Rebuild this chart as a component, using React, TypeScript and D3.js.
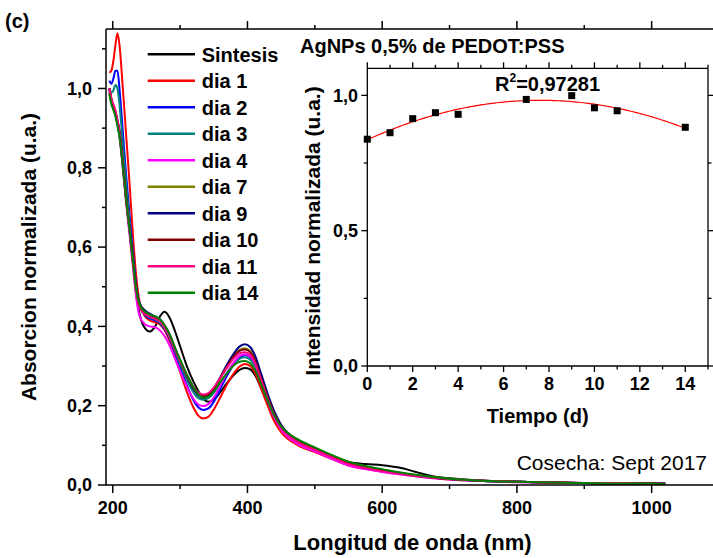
import React from "react";
import * as d3 from "d3";

// ---------- Main chart data ----------
const wavelengths = [195,198,201,204,207,210,215,220,225,230,235,240,248,255,263,270,277,285,292,300,310,320,327,334,342,350,360,370,380,388,396,404,412,420,430,440,450,475,500,525,550,575,600,625,650,675,700,750,800,850,900,950,1000,1020];

const sintesis = [0.99,0.965,0.95,0.935,0.91,0.88,0.80,0.715,0.64,0.56,0.48,0.43,0.395,0.387,0.40,0.425,0.437,0.42,0.39,0.35,0.30,0.26,0.237,0.218,0.21,0.215,0.235,0.258,0.278,0.29,0.295,0.292,0.275,0.245,0.205,0.168,0.142,0.108,0.09,0.072,0.058,0.053,0.05,0.044,0.033,0.022,0.017,0.011,0.008,0.006,0.005,0.004,0.004,0.004];
const dia1 = [1.04,1.045,1.07,1.11,1.139,1.11,1.0,0.88,0.76,0.63,0.525,0.46,0.425,0.415,0.41,0.405,0.39,0.36,0.325,0.285,0.235,0.195,0.175,0.168,0.172,0.19,0.222,0.255,0.282,0.298,0.305,0.30,0.28,0.245,0.20,0.16,0.133,0.10,0.083,0.066,0.05,0.041,0.034,0.028,0.022,0.018,0.014,0.01,0.008,0.006,0.005,0.005,0.004,0.004];
const dia2 = [1.02,1.012,1.025,1.045,1.045,1.0,0.89,0.78,0.68,0.585,0.5,0.452,0.428,0.42,0.415,0.408,0.393,0.367,0.335,0.298,0.252,0.213,0.196,0.189,0.193,0.21,0.243,0.277,0.305,0.321,0.328,0.322,0.30,0.262,0.213,0.172,0.143,0.107,0.088,0.07,0.053,0.044,0.036,0.03,0.024,0.019,0.015,0.01,0.008,0.006,0.005,0.005,0.005,0.005];
const dia3 = [1.0,0.99,0.995,1.009,1.0,0.96,0.86,0.76,0.665,0.575,0.495,0.452,0.43,0.423,0.418,0.41,0.395,0.37,0.34,0.305,0.265,0.233,0.219,0.215,0.219,0.233,0.258,0.284,0.306,0.318,0.322,0.316,0.295,0.258,0.212,0.172,0.144,0.109,0.09,0.072,0.055,0.045,0.037,0.03,0.024,0.019,0.015,0.01,0.008,0.006,0.005,0.004,0.004,0.004];
const dia4 = [1.0,0.97,0.95,0.935,0.91,0.88,0.80,0.71,0.63,0.55,0.47,0.425,0.405,0.40,0.398,0.39,0.375,0.35,0.32,0.287,0.248,0.217,0.203,0.199,0.204,0.221,0.252,0.284,0.31,0.325,0.33,0.324,0.302,0.263,0.213,0.17,0.14,0.103,0.085,0.066,0.049,0.04,0.033,0.027,0.022,0.017,0.014,0.01,0.007,0.006,0.005,0.004,0.004,0.004];
const dia7 = [1.0,0.975,0.955,0.94,0.915,0.89,0.81,0.72,0.645,0.565,0.49,0.455,0.435,0.428,0.422,0.415,0.40,0.375,0.345,0.313,0.275,0.243,0.228,0.222,0.226,0.242,0.27,0.30,0.326,0.34,0.345,0.338,0.313,0.272,0.222,0.179,0.149,0.112,0.092,0.073,0.056,0.046,0.038,0.031,0.025,0.02,0.016,0.011,0.008,0.006,0.005,0.004,0.004,0.003];
const dia9 = [1.0,0.97,0.95,0.94,0.92,0.895,0.815,0.725,0.65,0.57,0.495,0.458,0.44,0.432,0.425,0.418,0.403,0.378,0.347,0.314,0.275,0.242,0.226,0.22,0.225,0.243,0.273,0.305,0.332,0.349,0.355,0.348,0.323,0.282,0.23,0.185,0.152,0.112,0.091,0.072,0.055,0.045,0.037,0.03,0.024,0.019,0.015,0.011,0.008,0.006,0.005,0.005,0.005,0.005];
const dia10 = [1.0,0.972,0.952,0.938,0.915,0.89,0.81,0.72,0.645,0.565,0.49,0.455,0.436,0.429,0.423,0.416,0.401,0.376,0.346,0.314,0.277,0.245,0.23,0.225,0.229,0.244,0.271,0.30,0.325,0.338,0.342,0.335,0.31,0.27,0.221,0.178,0.148,0.111,0.091,0.072,0.055,0.045,0.037,0.03,0.024,0.019,0.015,0.011,0.008,0.006,0.005,0.004,0.004,0.003];
const dia11 = [1.0,0.975,0.96,0.945,0.92,0.89,0.81,0.72,0.64,0.56,0.485,0.448,0.43,0.424,0.419,0.412,0.397,0.372,0.343,0.312,0.277,0.247,0.233,0.228,0.232,0.246,0.271,0.297,0.32,0.332,0.335,0.329,0.305,0.266,0.217,0.175,0.145,0.108,0.089,0.07,0.053,0.043,0.035,0.029,0.023,0.018,0.015,0.011,0.008,0.006,0.005,0.005,0.004,0.004];
const dia14 = [0.985,0.96,0.945,0.93,0.905,0.88,0.805,0.718,0.643,0.565,0.49,0.455,0.437,0.43,0.425,0.418,0.403,0.378,0.348,0.316,0.279,0.246,0.229,0.22,0.223,0.236,0.26,0.283,0.302,0.311,0.313,0.307,0.288,0.255,0.213,0.175,0.148,0.115,0.095,0.076,0.059,0.048,0.04,0.032,0.026,0.02,0.016,0.011,0.008,0.006,0.005,0.004,0.004,0.003];

const seriesNames = ["Sintesis","dia 1","dia 2","dia 3","dia 4","dia 7","dia 9","dia 10","dia 11","dia 14"];
const seriesValues = [sintesis, dia1, dia2, dia3, dia4, dia7, dia9, dia10, dia11, dia14];
const seriesColors = ["#000000","#FF0000","#0000FF","#008080","#FF00FF","#808000","#000080","#800000","#FF0080","#008000"];

const xMajorTicks = [200, 400, 600, 800, 1000];
const xMinorTicks = [300, 500, 700, 900, 1100];
const yMajorTicks = [0, 0.2, 0.4, 0.6, 0.8, 1.0];
const yMajorLabels = ["0,0", "0,2", "0,4", "0,6", "0,8", "1,0"];
const yMinorTicks = [0.1, 0.3, 0.5, 0.7, 0.9, 1.1];

// ---------- Inset data ----------
const days = [0, 1, 2, 3, 4, 7, 9, 10, 11, 14];
const intensity = [0.838, 0.862, 0.914, 0.936, 0.930, 0.985, 0.999, 0.954, 0.943, 0.882];
const insetXMajor = [0, 2, 4, 6, 8, 10, 12, 14];
const insetXMinor = [1, 3, 5, 7, 9, 11, 13, 15];
const insetYMajor = [0, 0.5, 1.0];
const insetYLabels = ["0,0", "0,5", "1,0"];
const insetYMinor = [0.25, 0.75];

const FONT = "'Liberation Sans', Arial, Helvetica, sans-serif";

function quadFit(xs: number[], ys: number[]) {
  // least squares y = a + b x + c x^2
  let s0 = 0, s1 = 0, s2 = 0, s3 = 0, s4 = 0, t0 = 0, t1 = 0, t2 = 0;
  xs.forEach((x, i) => {
    const y = ys[i];
    s0 += 1; s1 += x; s2 += x * x; s3 += x * x * x; s4 += x * x * x * x;
    t0 += y; t1 += x * y; t2 += x * x * y;
  });
  const M = [[s0, s1, s2, t0], [s1, s2, s3, t1], [s2, s3, s4, t2]];
  for (let i = 0; i < 3; i++) {
    for (let k = i + 1; k < 3; k++) {
      const f = M[k][i] / M[i][i];
      for (let j = i; j < 4; j++) M[k][j] -= f * M[i][j];
    }
  }
  const sol = [0, 0, 0];
  for (let i = 2; i >= 0; i--) {
    let s = M[i][3];
    for (let j = i + 1; j < 3; j++) s -= M[i][j] * sol[j];
    sol[i] = s / M[i][i];
  }
  return sol;
}

export default function App() {
  const width = 713, height = 558;
  // main scales
  const x = d3.scaleLinear().domain([190, 1100]).range([106, 719]);
  const y = d3.scaleLinear().domain([0, 1.15]).range([485, 29]);
  const line = d3.line<number>()
    .x((_, i) => x(wavelengths[i]))
    .y((d) => y(d))
    .curve(d3.curveMonotoneX);

  // inset scales
  const ix = d3.scaleLinear().domain([0, 15]).range([367.3, 708]);
  const iy = d3.scaleLinear().domain([0, 1.1]).range([366, 68.3]);
  const coef = quadFit(days, intensity);
  const fitT = d3.range(0, 14.001, 0.1);
  const fitLine = d3.line<number>()
    .x((t) => ix(t))
    .y((t) => iy(coef[0] + coef[1] * t + coef[2] * t * t));

  const x0 = x.range()[0], x1 = x.range()[1];
  const y0 = y.range()[0], y1 = y.range()[1];
  const ix0 = ix.range()[0], ix1 = ix.range()[1];
  const iy0 = iy.range()[0], iy1 = iy.range()[1];

  return (
    <svg width={width} height={height} style={{ position: "absolute", left: 0, top: 0, background: "#fff" }} fontFamily={FONT}>
      <rect x={0} y={0} width={width} height={height} fill="#fff" />
      {/* panel label */}
      <text x={5} y={28} fontSize={20} fontWeight="bold">(c)</text>

      {/* curves */}
      <g fill="none" strokeWidth={2} strokeLinejoin="round">
        {seriesValues.map((vals, i) => (
          <path key={i} d={line(vals) || ""} stroke={seriesColors[i]} />
        ))}
      </g>

      {/* main frame */}
      <g stroke="#000" strokeWidth={1.5} fill="none">
        <line x1={x0} x2={x1} y1={y0} y2={y0} />
        <line x1={x0} x2={x1} y1={y1} y2={y1} />
        <line x1={x0} x2={x0} y1={y0} y2={y1} />
        <line x1={x1} x2={x1} y1={y0} y2={y1} />
        {xMajorTicks.map((t) => (
          <g key={"xm" + t}>
            <line x1={x(t)} x2={x(t)} y1={y0} y2={y0 + 8} />
            <line x1={x(t)} x2={x(t)} y1={y1} y2={y1 - 8} />
          </g>
        ))}
        {xMinorTicks.map((t) => (
          <g key={"xn" + t}>
            <line x1={x(t)} x2={x(t)} y1={y0} y2={y0 + 4} />
            <line x1={x(t)} x2={x(t)} y1={y1} y2={y1 - 4} />
          </g>
        ))}
        {yMajorTicks.map((t) => (
          <g key={"ym" + t}>
            <line x1={x0} x2={x0 - 8} y1={y(t)} y2={y(t)} />
            <line x1={x1} x2={x1 + 8} y1={y(t)} y2={y(t)} />
          </g>
        ))}
        {yMinorTicks.map((t) => (
          <g key={"yn" + t}>
            <line x1={x0} x2={x0 - 4} y1={y(t)} y2={y(t)} />
            <line x1={x1} x2={x1 + 4} y1={y(t)} y2={y(t)} />
          </g>
        ))}
      </g>
      <g fontSize={18} fontWeight="bold" fill="#000">
        {xMajorTicks.map((t) => (
          <text key={"xl" + t} x={x(t)} y={514} textAnchor="middle">{t}</text>
        ))}
        {yMajorTicks.map((t, i) => (
          <text key={"yl" + t} x={92} y={y(t)} dy="0.35em" textAnchor="end">{yMajorLabels[i]}</text>
        ))}
      </g>
      <text x={(x0 + x1) / 2} y={550} textAnchor="middle" fontSize={22} fontWeight="bold">Longitud de onda (nm)</text>
      <text transform={`translate(36, ${(y0 + y1) / 2}) rotate(-90)`} textAnchor="middle" fontSize={21} fontWeight="bold">Absorcion normalizada (u.a.)</text>

      {/* legend */}
      <g>
        {seriesNames.map((n, i) => {
          const cy = 54.3 + i * 26.5;
          return (
            <g key={n}>
              <line x1={147.7} x2={195} y1={cy} y2={cy} stroke={seriesColors[i]} strokeWidth={2.5} />
              <text x={201.7} y={cy} dy="0.36em" fontSize={20} fontWeight="bold">{n}</text>
            </g>
          );
        })}
      </g>

      <text x={707} y={470} textAnchor="end" fontSize={21}>Cosecha: Sept 2017</text>

      {/* inset */}
      <text x={300} y={52.7} fontSize={20} fontWeight="bold">AgNPs 0,5% de PEDOT:PSS</text>
      <path d={fitLine(fitT) || ""} fill="none" stroke="#FF0000" strokeWidth={1.2} />
      <g fill="#000">
        {days.map((d, i) => (
          <rect key={"p" + i} x={ix(d) - 3.5} y={iy(intensity[i]) - 3.5} width={7} height={7} />
        ))}
      </g>
      <g stroke="#000" strokeWidth={1.3} fill="none">
        <line x1={ix0} x2={ix1} y1={iy0} y2={iy0} />
        <line x1={ix0} x2={ix1} y1={iy1} y2={iy1} />
        <line x1={ix0} x2={ix0} y1={iy0} y2={iy1} />
        <line x1={ix1} x2={ix1} y1={iy0} y2={iy1} />
        {insetXMajor.map((t) => (
          <g key={"ixm" + t}>
            <line x1={ix(t)} x2={ix(t)} y1={iy0} y2={iy0 + 6} />
            <line x1={ix(t)} x2={ix(t)} y1={iy1} y2={iy1 - 6} />
          </g>
        ))}
        {insetXMinor.map((t) => (
          <g key={"ixn" + t}>
            <line x1={ix(t)} x2={ix(t)} y1={iy0} y2={iy0 + 3.5} />
            <line x1={ix(t)} x2={ix(t)} y1={iy1} y2={iy1 - 3.5} />
          </g>
        ))}
        {insetYMajor.map((t) => (
          <g key={"iym" + t}>
            <line x1={ix0} x2={ix0 - 6} y1={iy(t)} y2={iy(t)} />
            <line x1={ix1} x2={ix1 + 6} y1={iy(t)} y2={iy(t)} />
          </g>
        ))}
        {insetYMinor.map((t) => (
          <g key={"iyn" + t}>
            <line x1={ix0} x2={ix0 - 3.5} y1={iy(t)} y2={iy(t)} />
            <line x1={ix1} x2={ix1 + 3.5} y1={iy(t)} y2={iy(t)} />
          </g>
        ))}
      </g>
      <g fontSize={18} fontWeight="bold" fill="#000">
        {insetXMajor.map((t) => (
          <text key={"ixl" + t} x={ix(t)} y={390} textAnchor="middle">{t}</text>
        ))}
        {insetYMajor.map((t, i) => (
          <text key={"iyl" + t} x={358} y={iy(t)} dy="0.35em" textAnchor="end">{insetYLabels[i]}</text>
        ))}
      </g>
      <text x={(ix0 + ix1) / 2} y={423} textAnchor="middle" fontSize={20} fontWeight="bold">Tiempo (d)</text>
      <text transform={`translate(320, 231) rotate(-90)`} textAnchor="middle" fontSize={21} fontWeight="bold">Intensidad normalizada (u.a.)</text>
      <text x={495} y={90.7} fontSize={20} fontWeight="bold">
        R<tspan dy={-9} fontSize={12}>2</tspan><tspan dy={9}>=0,97281</tspan>
      </text>
    </svg>
  );
}
